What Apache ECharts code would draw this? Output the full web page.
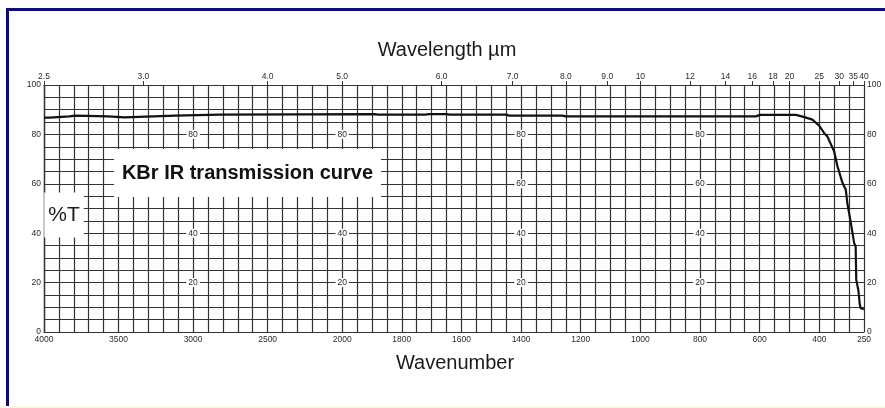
<!DOCTYPE html>
<html><head><meta charset="utf-8">
<script src="https://cdn.jsdelivr.net/npm/echarts@6/dist/echarts.min.js"></script>
<style>html,body{margin:0;padding:0;background:#fff}#c{width:885px;height:408px}</style>
</head><body><div id="c"></div>
<script>
// ---- data ----
const wavenumbers = [4000, 3960, 3950, 3830, 3820, 3790, 3780, 3570, 3560, 3460,
  3450, 3120, 3110, 2820, 2810, 1890, 1880, 1720, 1710, 1650,
  1640, 1450, 1440, 1262, 1250, 612, 600, 478, 450, 423,
  400, 384, 373, 350, 339, 322, 311, 306, 294, 283,
  278, 276, 269, 264, 261, 253, 250];
const transmission = [86.8, 86.8, 87.3, 87.3, 87.6, 87.6, 87.3, 87.3, 86.9, 86.9,
  87.6, 87.6, 88.0, 88.0, 88.2, 88.2, 88.0, 88.0, 88.2, 88.2,
  88.0, 88.0, 87.6, 87.6, 87.3, 87.3, 87.9, 87.9, 87.0, 86.0,
  83.5, 80.6, 79.2, 73.1, 67.1, 60.3, 57.6, 52.2, 44.1, 36.0,
  34.6, 21.1, 17.0, 11.0, 9.6, 9.3, 9.2];
const bottomTickWavenumbers = [4000, 3500, 3000, 2500, 2000, 1800, 1600, 1400, 1200, 1000, 800, 600, 400, 250];
const topTickWavelengths = ['2.5', '3.0', '4.0', '5.0', '6.0', '7.0', '8.0', '9.0', '10', '12', '14', '16', '18', '20', '25', '30', '35', '40'];
const yTickLabels = [0, 20, 40, 60, 80, 100];
const innerLabelValues = [20, 40, 60, 80];
const innerAxisWavenumbers = [3000, 2000, 1400, 800];

// Piecewise IR wavenumber scale: one grid step = 100 cm-1 above 2000, 50 cm-1 below.
function toUnit(w) { return w >= 2000 ? (4000 - w) / 100 : 20 + (2000 - w) / 50; }
const U_MAX = toUnit(250);

const G_LEFT = 44, G_RIGHT = 21, G_TOP = 85, G_BOTTOM = 76;
const G_W = 885 - G_LEFT - G_RIGHT;
const FONT = 'Arial, "Liberation Sans", sans-serif';
const gridColor = '#333';
const gridWidth = 1.2;
const lblColor = '#2a2a2a';

const bottomPos = bottomTickWavenumbers.map(toUnit);
const topPos = topTickWavelengths.map(s => toUnit(10000 / parseFloat(s)));
function nearestIndex(arr, v) {
  let best = 0, bd = 1e9;
  arr.forEach((p, i) => { const d = Math.abs(p - v); if (d < bd) { bd = d; best = i; } });
  return best;
}
const topLabel = v => topTickWavelengths[nearestIndex(topPos, v)];
const bottomLabel = v => String(bottomTickWavenumbers[nearestIndex(bottomPos, v)]);

const seriesData = wavenumbers.map((w, i) => [toUnit(w), transmission[i]]);

const labelBase = { fontSize: 8.5, color: lblColor, fontFamily: FONT };
const lineSt = { color: gridColor, width: gridWidth };

const yAxes = [
  {
    type: 'value', min: 0, max: 100, interval: 5, position: 'left',
    axisLine: { show: true, lineStyle: lineSt },
    axisTick: { show: false },
    splitLine: { show: true, lineStyle: lineSt },
    axisLabel: Object.assign({}, labelBase, { margin: 3, formatter: v => yTickLabels.includes(v) ? String(v) : '' })
  },
  {
    type: 'value', min: 0, max: 100, interval: 5, position: 'right',
    axisLine: { show: true, lineStyle: lineSt },
    axisTick: { show: false },
    splitLine: { show: false },
    axisLabel: Object.assign({}, labelBase, { margin: 3, formatter: v => yTickLabels.includes(v) ? String(v) : '' })
  }
].concat(innerAxisWavenumbers.map(w => ({
  type: 'value', min: 0, max: 100, interval: 20, position: 'left',
  offset: -(toUnit(w) / U_MAX * G_W),
  axisLine: { show: false }, axisTick: { show: false }, splitLine: { show: false },
  axisLabel: Object.assign({}, labelBase, {
    showMinLabel: false, showMaxLabel: false,
    align: 'center', margin: 0, backgroundColor: '#fff', padding: [0, 2],
    formatter: v => innerLabelValues.includes(v) ? String(v) : ''
  })
})));

const option = {
  animation: false,
  backgroundColor: '#fff',
  grid: { left: G_LEFT, right: G_RIGHT, top: G_TOP, bottom: G_BOTTOM, containLabel: false, outerBoundsMode: 'none' },
  xAxis: [
    {
      type: 'value', min: 0, max: U_MAX, interval: 1, position: 'bottom',
      axisLine: { show: true, onZero: false, lineStyle: lineSt },
      axisTick: { show: false },
      splitLine: { show: true, lineStyle: lineSt },
      axisLabel: Object.assign({}, labelBase, { margin: 3, customValues: bottomPos, formatter: bottomLabel })
    },
    {
      type: 'value', min: 0, max: U_MAX, position: 'top',
      axisLine: { show: true, onZero: false, lineStyle: lineSt },
      axisTick: { show: true, customValues: topPos, length: 4, lineStyle: { color: gridColor } },
      splitLine: { show: false },
      axisLabel: Object.assign({}, labelBase, { margin: 4, customValues: topPos, formatter: topLabel })
    }
  ],
  yAxis: yAxes,
  series: [{
    type: 'line', xAxisIndex: 0, yAxisIndex: 0,
    data: seriesData, showSymbol: false, symbol: 'none', smooth: false,
    lineStyle: { color: '#111', width: 2.2 }, z: 10, silent: true
  }],
  graphic: [
    { type: 'rect', z: 200, silent: true, shape: { x: 7.5, y: 9.5, width: 900, height: 420 },
      style: { fill: 'none', stroke: '#0b0b7a', lineWidth: 3 } },
    { type: 'rect', z: 201, silent: true, shape: { x: 0, y: 406, width: 885, height: 2 },
      style: { fill: '#fcf8e6' } },
    { type: 'text', z: 100, silent: true, x: 447, y: 50,
      style: { text: 'Wavelength µm', font: '20px ' + FONT, fill: '#1a1a1a', align: 'center', verticalAlign: 'middle' } },
    { type: 'text', z: 100, silent: true, x: 455, y: 363,
      style: { text: 'Wavenumber', font: '20px ' + FONT, fill: '#1a1a1a', align: 'center', verticalAlign: 'middle' } },
    { type: 'text', z: 100, silent: true, x: 247.5, y: 173,
      style: { text: 'KBr IR transmission curve', font: 'bold 20px ' + FONT, fill: '#111',
        align: 'center', verticalAlign: 'middle', backgroundColor: '#fff', padding: [14, 8, 14, 8], lineHeight: 20 } },
    { type: 'text', z: 100, silent: true, x: 64, y: 215,
      style: { text: '%T', font: '21px ' + FONT, fill: '#1a1a1a',
        align: 'center', verticalAlign: 'middle', backgroundColor: '#fff', padding: [12, 4, 12, 4], lineHeight: 21 } }
  ]
};

const chart = echarts.init(document.getElementById('c'), null, { renderer: 'canvas' });
chart.setOption(option);
</script>
</body></html>
